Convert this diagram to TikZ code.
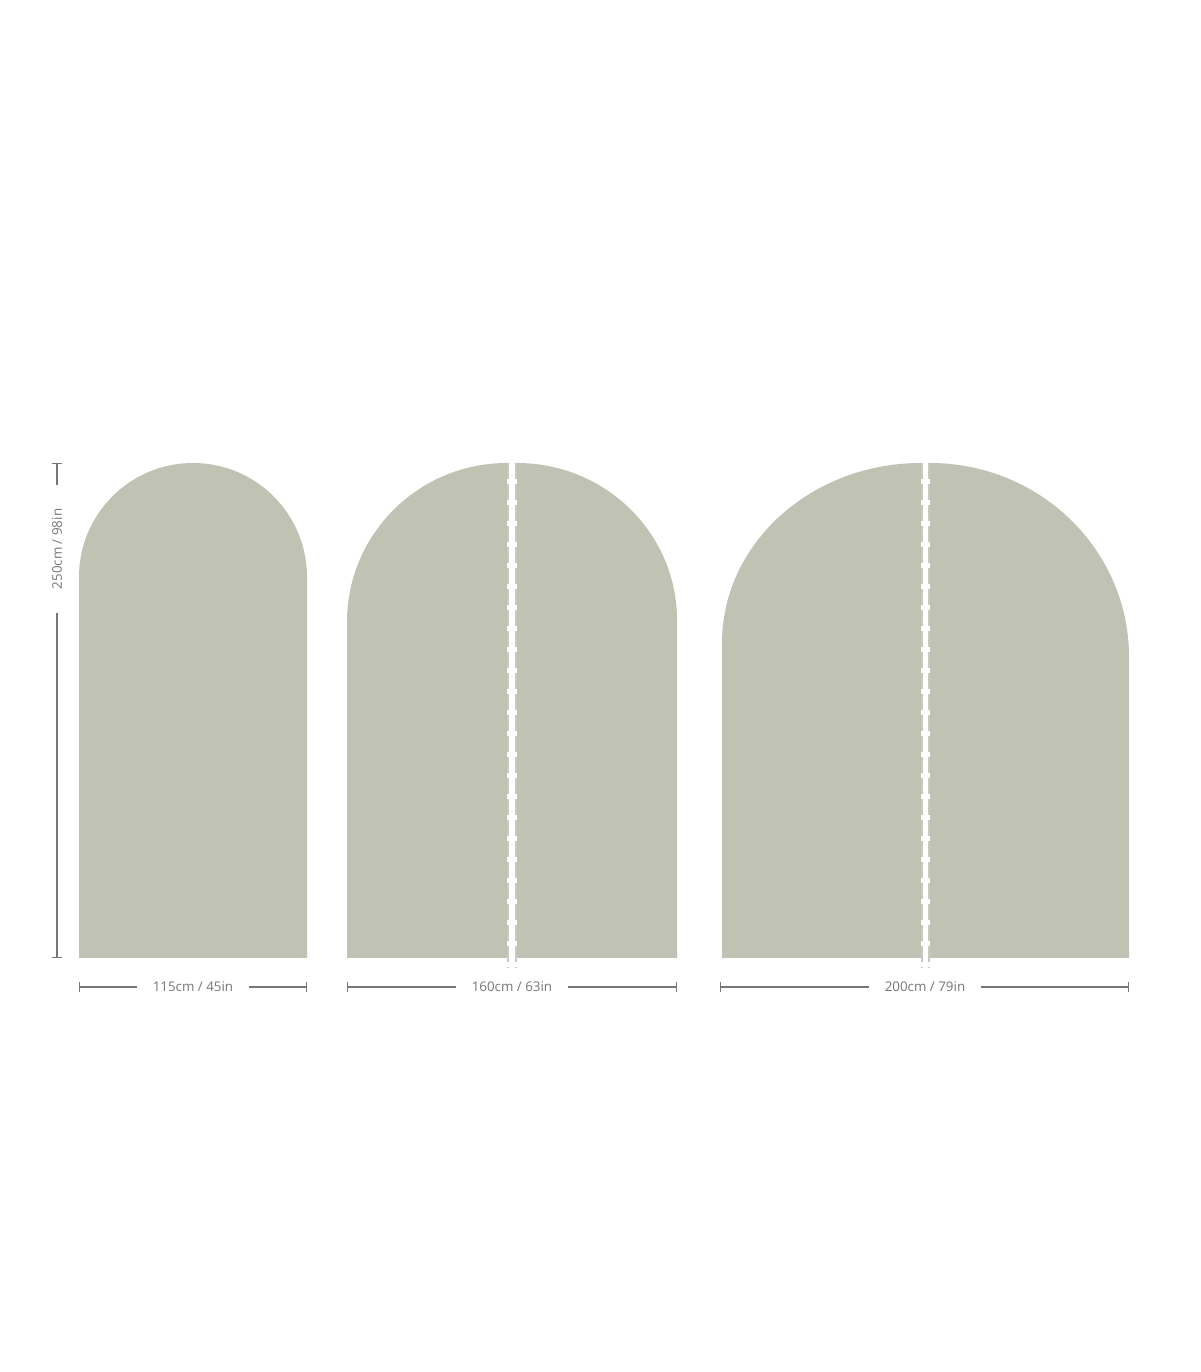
\documentclass[tikz,border=0pt]{standalone}
\usepackage{fontspec}
\setmainfont{Open Sans}
\usetikzlibrary{arrows.meta}
\definecolor{panel}{HTML}{C0C2B3}
\definecolor{dimgrey}{HTML}{767676}
\definecolor{seamgrey}{HTML}{C9C9C2}

\begin{document}
\begin{tikzpicture}[x=0.02cm, y=0.02cm,
    seam/.style={draw=seamgrey, line width=0.035cm, dash pattern=on 0.32cm off 0.1cm},
    dimline/.style={draw=dimgrey, line width=0.025cm, {Bar[width=0.2cm]}-},
    dimlabel/.style={text=dimgrey, font=\fontsize{7.6}{9}\selectfont, inner xsep=0.3cm, inner ysep=0pt}]
        \useasboundingbox (0,0) rectangle (1200,1372);

        % arch panels
        \fill[panel] (79,414) -- (79,795) arc (180:0:114) -- (307,414) -- cycle;
        \fill[panel] (347,414) -- (347,750) arc (180:90:160 and 159) -- (507,414) -- cycle;
        \fill[panel] (677,414) -- (677,752) arc (0:90:160 and 157) -- (517,414) -- cycle;
        \fill[panel] (722,414) -- (722,729) arc (180:90:199 and 180) -- (921,414) -- cycle;
        \fill[panel] (1129,414) -- (1129,715) arc (0:90:199 and 194) -- (930,414) -- cycle;

        % seams
        \draw[seam] (508,909) -- (508,404);
        \draw[seam] (516,909) -- (516,404);
        \draw[seam] (922,909) -- (922,404);
        \draw[seam] (929,909) -- (929,404);

        % height
        \coordinate (htop) at (57,909);
        \coordinate (hbot) at (57,414);
        \node[dimlabel, rotate=90, inner xsep=0.46cm] (h) at (57,823) {250cm / 98in};
        \draw[dimline] (htop) -- (h);
        \draw[dimline] (hbot) -- (h);

        % widths
        \coordinate (w1l) at (79,385);
        \coordinate (w1r) at (307,385);
        \node[dimlabel] (w1) at (193,385) {115cm / 45in};
        \draw[dimline] (w1l) -- (w1);
        \draw[dimline] (w1r) -- (w1);

        \coordinate (w2l) at (347,385);
        \coordinate (w2r) at (677,385);
        \node[dimlabel] (w2) at (512,385) {160cm / 63in};
        \draw[dimline] (w2l) -- (w2);
        \draw[dimline] (w2r) -- (w2);

        \coordinate (w3l) at (720,385);
        \coordinate (w3r) at (1129,385);
        \node[dimlabel] (w3) at (925,385) {200cm / 79in};
        \draw[dimline] (w3l) -- (w3);
        \draw[dimline] (w3r) -- (w3);

    \end{tikzpicture}
\end{document}
